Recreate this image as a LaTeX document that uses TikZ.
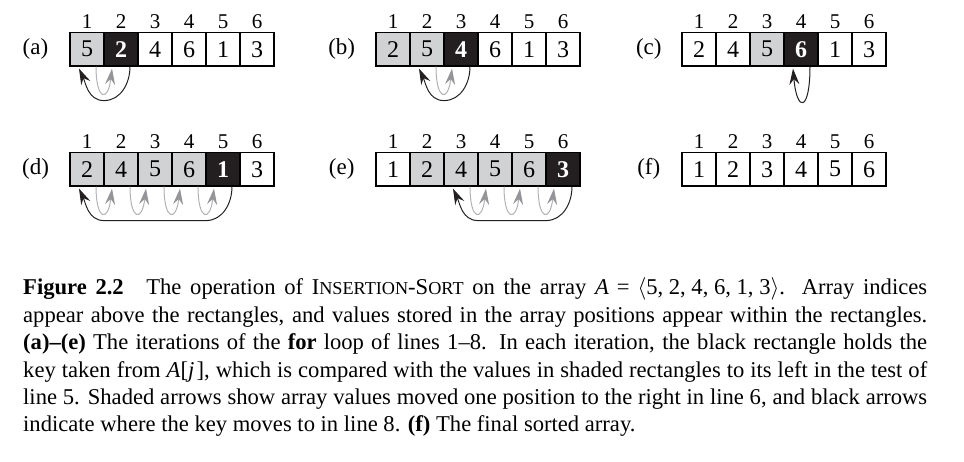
\RequirePackage{fix-cm}
\documentclass[tikz,border=0pt]{standalone}
\usepackage{fontspec}
\setmainfont{Liberation Serif}
\usetikzlibrary{arrows.meta,calc}
\definecolor{shade}{HTML}{D1D2D4}
\definecolor{keyblk}{HTML}{231F20}
\definecolor{movegray}{HTML}{939598}
\definecolor{moveline}{HTML}{B0B2B5}
\newcommand\vsq[1]{#1}
\newcommand\capfnt{\fontsize{22.6}{27.4}\selectfont}
\newcommand\smc[1]{{\fontsize{18.2}{27.4}\selectfont #1}}
\tikzset{
  cell/.style={draw=black, line width=1.1pt, minimum width=34pt, minimum height=33.7pt,
    inner sep=0pt, font=\fontsize{24}{24}\selectfont},
  shadecell/.style={cell, fill=shade},
  keycell/.style={cell, fill=keyblk, text=white, font=\fontsize{24}{24}\selectfont\bfseries},
  idx/.style={inner sep=0pt, font=\fontsize{21}{21}\selectfont},
  plabel/.style={inner sep=0pt, font=\fontsize{23}{23}\selectfont},
  keyarrow/.style={draw=keyblk, line width=1pt, -{Stealth[length=16pt,width=10pt,inset=5.5pt]}},
  movearrow/.style={draw=moveline, line width=1pt, -{Stealth[length=16pt,width=10pt,inset=5.5pt,color=movegray]}},
}
\begin{document}
\begin{tikzpicture}[x=1pt,y=-1pt]
\useasboundingbox (0,0) rectangle (964,462);
% panel labels
\node[plabel] (la) at (35.5,49) {\vsq{(a)}};
\node[plabel] (lb) at (341.7,49) {\vsq{(b)}};
\node[plabel] (lc) at (648.8,49) {\vsq{(c)}};
\node[plabel] (ld) at (35.5,169) {\vsq{(d)}};
\node[plabel] (le) at (341.7,169) {\vsq{(e)}};
\node[plabel] (lf) at (648.8,169) {\vsq{(f)}};
% (a)
\node[shadecell] (a1) at (87,49.2) {\vsq{5}};
\node[keycell]   (a2) at (121,49.2) {\vsq{2}};
\node[cell]      (a3) at (155,49.2) {\vsq{4}};
\node[cell]      (a4) at (189,49.2) {\vsq{6}};
\node[cell]      (a5) at (223,49.2) {\vsq{1}};
\node[cell]      (a6) at (257,49.2) {\vsq{3}};
% (b)
\node[shadecell] (b1) at (393,49.2) {\vsq{2}};
\node[shadecell] (b2) at (427,49.2) {\vsq{5}};
\node[keycell]   (b3) at (461,49.2) {\vsq{4}};
\node[cell]      (b4) at (495,49.2) {\vsq{6}};
\node[cell]      (b5) at (529,49.2) {\vsq{1}};
\node[cell]      (b6) at (563,49.2) {\vsq{3}};
% (c)
\node[cell]      (c1) at (699,49.2) {\vsq{2}};
\node[cell]      (c2) at (733,49.2) {\vsq{4}};
\node[shadecell] (c3) at (767,49.2) {\vsq{5}};
\node[keycell]   (c4) at (801,49.2) {\vsq{6}};
\node[cell]      (c5) at (835,49.2) {\vsq{1}};
\node[cell]      (c6) at (869,49.2) {\vsq{3}};
% (d)
\node[shadecell] (d1) at (87,169.2) {\vsq{2}};
\node[shadecell] (d2) at (121,169.2) {\vsq{4}};
\node[shadecell] (d3) at (155,169.2) {\vsq{5}};
\node[shadecell] (d4) at (189,169.2) {\vsq{6}};
\node[keycell]   (d5) at (223,169.2) {\vsq{1}};
\node[cell]      (d6) at (257,169.2) {\vsq{3}};
% (e)
\node[cell]      (e1) at (393,169.2) {\vsq{1}};
\node[shadecell] (e2) at (427,169.2) {\vsq{2}};
\node[shadecell] (e3) at (461,169.2) {\vsq{4}};
\node[shadecell] (e4) at (495,169.2) {\vsq{5}};
\node[shadecell] (e5) at (529,169.2) {\vsq{6}};
\node[keycell]   (e6) at (563,169.2) {\vsq{3}};
% (f)
\node[cell]      (f1) at (699,169.2) {\vsq{1}};
\node[cell]      (f2) at (733,169.2) {\vsq{2}};
\node[cell]      (f3) at (767,169.2) {\vsq{3}};
\node[cell]      (f4) at (801,169.2) {\vsq{4}};
\node[cell]      (f5) at (835,169.2) {\vsq{5}};
\node[cell]      (f6) at (869,169.2) {\vsq{6}};
% indices
\foreach \p in {a,b,c,d,e,f}
  \foreach \i in {1,...,6}
    \node[idx] (i\p\i) at ($(\p\i.north)+(0,-10)$) {\vsq{\i}};
% shaded arrows
\foreach \s/\t in {a1/a2, b2/b3, d1/d2, d2/d3, d3/d4, d4/d5, e3/e4, e4/e5, e5/e6}
  \draw[movearrow] ([xshift=9pt]\s.south) .. controls +(0,34) and +(-4,34) .. ([xshift=-9pt,yshift=-2pt]\t.south);
% key arrows
\draw[keyarrow] ([xshift=9pt]a2.south) to[out=-90,in=0] ($(a1.south)!0.5!(a2.south)+(0,34)$)
  to[out=180,in=-65] ([xshift=-8pt,yshift=-2pt]a1.south);
\draw[keyarrow] ([xshift=9pt]b3.south) to[out=-90,in=0] ($(b2.south)!0.5!(b3.south)+(0,34)$)
  to[out=180,in=-65] ([xshift=-8pt,yshift=-2pt]b2.south);
\draw[keyarrow] ([xshift=9pt]c4.south) .. controls +(0,45) and +(4,45) .. ([xshift=-8pt,yshift=-2pt]c4.south);
\draw[keyarrow] ([xshift=9pt]d5.south) to[out=-90,in=0] ($(d5.south)+(-17,34)$) -- ($(d1.south)+(17,34)$)
  to[out=180,in=-65] ([xshift=-8pt,yshift=-2pt]d1.south);
\draw[keyarrow] ([xshift=9pt]e6.south) to[out=-90,in=0] ($(e6.south)+(-17,34)$) -- ($(e3.south)+(17,34)$)
  to[out=180,in=-65] ([xshift=-8pt,yshift=-2pt]e3.south);
% caption
\node[anchor=base west, inner sep=0pt] (cap) at (23,295) {\vsq{\parbox[t]{904pt}{\capfnt\noindent
\textbf{Figure 2.2}\hspace{1em}The operation of I\smc{NSERTION}-S\smc{ORT} on the array \textit{A}\kern0.35em=\kern0.35em$\langle$5,\kern0.25em2,\kern0.25em4,\kern0.25em6,\kern0.25em1,\kern0.25em3$\rangle$. Array indices\linebreak
appear above the rectangles, and values stored in the array positions appear within the rectangles.\linebreak
\textbf{(a)--(e)} The iterations of the \textbf{for} loop of lines 1--8. In each iteration, the black rectangle holds the\linebreak
key taken from \textit{A}[\textit{j}\kern0.1em], which is compared with the values in shaded rectangles to its left in the test of\linebreak
line 5. Shaded arrows show array values moved one position to the right in line 6, and black arrows\linebreak
indicate where the key moves to in line 8. \textbf{(f)} The final sorted array.}}};
\end{tikzpicture}
\end{document}
